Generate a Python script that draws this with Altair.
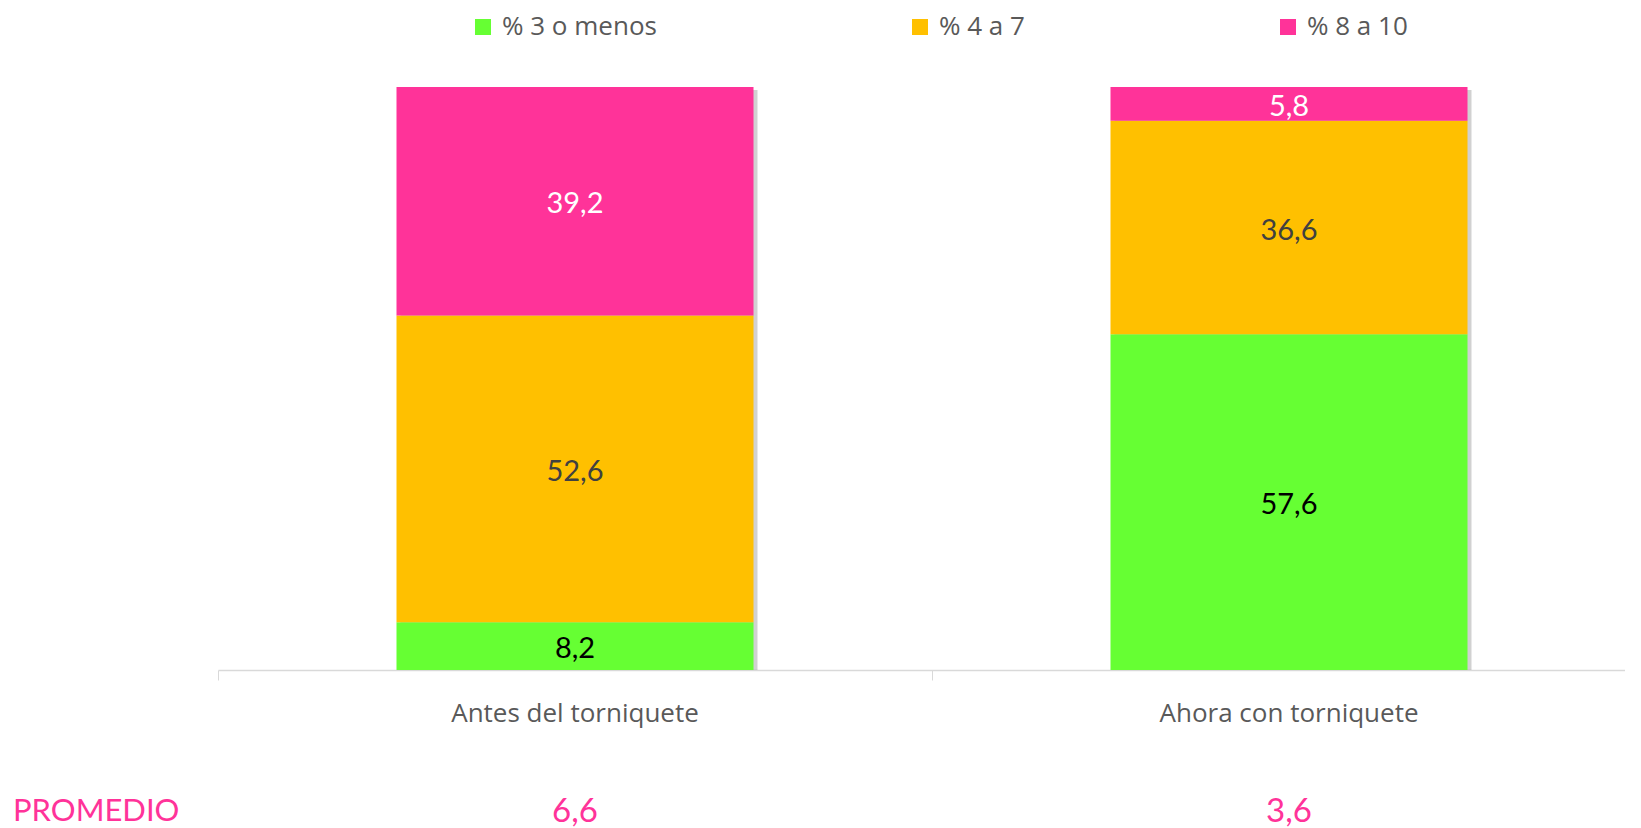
import altair as alt
import pandas as pd

categories = ["Antes del torniquete", "Ahora con torniquete"]
series = ["% 3 o menos", "% 4 a 7", "% 8 a 10"]
vals_3_o_menos = [8.2, 57.6]
vals_4_a_7 = [52.6, 36.6]
vals_8_a_10 = [39.2, 5.8]
promedio = ["6,6", "3,6"]

bar_colors = ["#66FF33", "#FFC000", "#FF3399"]
label_colors = ["#000000", "#404040", "#FFFFFF"]

rows = []
for si, (s, vals) in enumerate(zip(series, [vals_3_o_menos, vals_4_a_7, vals_8_a_10])):
    for c, v in zip(categories, vals):
        rows.append({"cat": c, "series": s, "order": si, "value": v,
                     "label": f"{v:.1f}".replace(".", ",")})
df = pd.DataFrame(rows)
prom_df = pd.DataFrame({"cat": categories, "prom": promedio})

W, H = 1407, 583
FONT = "Lato"
UIFONT = "Open Sans"

xscale = alt.Scale(domain=categories, range=[0, 1428], paddingInner=0, paddingOuter=0)
x = alt.X("cat:N", scale=xscale, sort=categories, title=None,
          axis=alt.Axis(labelAngle=0, labelFontSize=26, labelColor="#595959", labelFont=UIFONT,
                        labelLimit=0,
                        domainColor="#D9D9D9", domainWidth=1.5, tickColor="#D9D9D9",
                        tickSize=10, tickWidth=1, bandPosition=0, labelPadding=20))
yscale = alt.Scale(domain=[0, 100], nice=False)

base = alt.Chart(df)
BW = alt.RelativeBandSize(0.5)

shadow = base.mark_bar(color="#000000", opacity=0.18, xOffset=4, yOffset=3, width=BW).encode(
    x=x,
    y=alt.Y("sum(value):Q", scale=yscale, axis=None, stack=None),
)

bars = base.mark_bar(width=BW).encode(
    x=x,
    y=alt.Y("value:Q", scale=yscale, axis=None, stack="zero"),
    color=alt.Color("series:N", scale=alt.Scale(domain=series, range=bar_colors),
                    legend=alt.Legend(title=None, orient="none", legendX=252, legendY=-73,
                                      direction="horizontal", symbolType="square",
                                      symbolSize=256, symbolStrokeWidth=0, labelFontSize=26,
                                      labelFont=UIFONT, labelColor="#595959", labelOffset=6,
                                      columnPadding=250)),
    order=alt.Order("order:Q"),
)

labels = base.transform_stack(
    stack="value", groupby=["cat"], sort=[alt.SortField("order", "ascending")],
    as_=["v0", "v1"]
).transform_calculate(mid="(datum.v0 + datum.v1) / 2").mark_text(
    fontSize=29, font=FONT, baseline="middle", align="center", dy=3
).encode(
    x=x,
    y=alt.Y("mid:Q", scale=yscale, axis=None),
    text="label:N",
    color=alt.Color("series:N", scale=alt.Scale(domain=series, range=label_colors), legend=None),
)

prom = alt.Chart(prom_df).mark_text(fontSize=33, font=FONT, color="#FF3399",
                                    baseline="middle", align="center").encode(
    x=x, y=alt.value(H + 142), text="prom:N")

prom_title = alt.Chart(prom_df).transform_filter(alt.datum.cat == categories[0]).mark_text(
    fontSize=31, font=FONT, color="#FF3399", baseline="middle", align="left").encode(
    x=alt.value(-205), y=alt.value(H + 142), text=alt.value("PROMEDIO"))

chart = alt.layer(shadow, bars, labels, prom, prom_title).resolve_scale(
    color="independent"
).properties(
    width=W, height=H,
    autosize=alt.AutoSizeParams(type="none"),
    padding={"left": 210, "top": 79, "right": 0, "bottom": 160},
).configure(background="white").configure_view(stroke=None)

chart.save("out.html", embed_options={"renderer": "svg", "actions": False})
